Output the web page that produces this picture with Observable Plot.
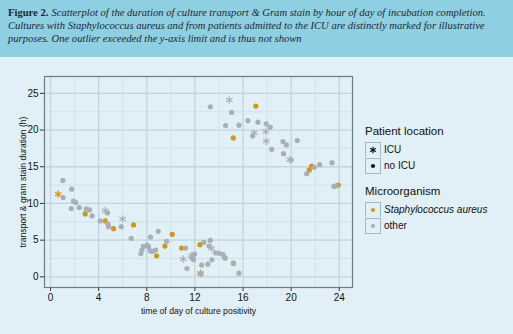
<!DOCTYPE html>
<html>
<head>
<meta charset="utf-8">
<script src="https://cdn.jsdelivr.net/npm/d3@7"></script>
<script src="https://cdn.jsdelivr.net/npm/@observablehq/plot@0.6"></script>
<style>
  html, body { margin: 0; padding: 0; }
  body { width: 513px; height: 334px; background: #e1eff6; position: relative; overflow: hidden; }
  #cap { height: 57px; background: #8ecfe1; box-sizing: border-box; padding: 6px 8px 0 8px;
         font-family: "Liberation Serif", "Times New Roman", serif; font-size: 10.6px; line-height: 13px; color: #1b2a33; }
  #cap div { white-space: nowrap; }
  #cap b { margin-right: 3px; }
  #cap i { font-style: italic; }
  #chart { position: absolute; left: 0; top: 57px; }
  #legend { position: absolute; left: 365px; top: 122px; font-family: "Liberation Sans", Arial, sans-serif; color: #111; }
  .lt { font-size: 11.5px; height: 19px; line-height: 19px; }
  .row { display: flex; align-items: center; height: 16.5px; }
  .box { width: 16px; height: 15.5px; border: 1px solid #a9b6bd; border-bottom-width: 0; box-sizing: border-box; display: flex; align-items: center; justify-content: center; }
  .row:last-child .box { border-bottom-width: 1px; }
  .lab { font-size: 10px; margin-left: 3px; }
  .grp { margin-bottom: 8px; }
</style>
</head>
<body>
<div id="cap">
  <div><b>Figure 2.</b><i>Scatterplot of the duration of culture transport &amp; Gram stain by hour of day of incubation completion.</i></div>
  <div><i>Cultures with Staphylococcus aureus and from patients admitted to the ICU are distinctly marked for illustrative</i></div>
  <div><i>purposes. One outlier exceeded the y-axis limit and is thus not shown</i></div>
</div>
<div id="chart"></div>
<div id="legend"></div>
<script>
// ---- data ----
const xTicks = [0, 4, 8, 12, 16, 20, 24];
const yTicks = [0, 5, 10, 15, 20, 25];
const xMinor = [2, 6, 10, 14, 18, 22];
const yMinor = [2.5, 7.5, 12.5, 17.5, 22.5];

// no ICU, other (gray circles)
const otherNoIcuHour = [1.03,1.75,1.05,1.91,2.1,1.72,2.38,2.97,3.24,3.46,4.13,4.74,4.77,4.82,5.88,6.71,7.51,7.59,7.71,8.04,8.15,8.29,8.45,8.73,8.31,8.95,9.65,11.22,11.34,11.78,11.97,11.89,12.47,12.56,12.75,13.08,13.28,13.19,13.41,13.72,14.02,14.33,14.47,14.52,15.22,15.66,13.28,14.55,15.05,15.66,16.41,16.8,17.24,17.93,18.26,18.38,19.32,19.6,19.37,20.01,20.51,21.29,21.92,22.37,23.39,23.56,23.75];
const otherNoIcuDur  = [13.14,11.95,10.81,10.31,10.13,9.31,9.44,9.26,9.12,8.3,7.62,8.71,7.21,6.84,6.84,5.25,3.15,3.65,4.15,4.33,4.1,3.56,3.47,3.65,5.43,6.2,4.84,3.92,1.14,2.55,3.1,2.37,0.46,1.6,4.7,1.73,4.97,4.2,2.33,3.28,3.19,3.06,2.65,2.55,1.82,0.5,23.18,20.62,22.4,20.67,21.3,19.2,21.08,20.85,20.39,17.38,18.43,17.97,16.79,15.92,18.57,14.05,14.92,15.28,15.56,12.32,12.41];

// ICU, other (gray asterisks)
const otherIcuHour = [4.55,5.99,11.03,11.7,13.39,14.86,16.93,17.9,17.93,19.87];
const otherIcuDur  = [9.03,7.89,2.42,2.87,3.88,24.09,19.62,19.8,18.48,15.97];

// no ICU, Staphylococcus aureus (orange circles)
const saNoIcuHour = [2.88,4.55,5.24,6.9,8.81,9.51,10.12,10.89,12.42,15.2,15.19,17.07,21.51,21.7,23.92];
const saNoIcuDur  = [8.58,7.62,6.57,7.07,2.87,4.2,5.79,3.92,4.38,1.86,18.93,23.27,14.55,15.1,12.5];

// ICU, Staphylococcus aureus (orange asterisks)
const saIcuHour = [0.64,12.47];
const saIcuDur  = [11.27,0.46];

const orange = "#d2980e";
const gray = "#a8b0b6";

const zip = (h, d) => h.map((x, i) => ({hour: x, dur: d[i]}));

const chart = Plot.plot({
  width: 513,
  height: 277,
  marginLeft: 44,
  marginRight: 161,
  marginTop: 19,
  marginBottom: 47,
  style: {background: "transparent", fontFamily: "'Liberation Sans', Arial, sans-serif", fontSize: "10px", color: "#111"},
  x: {domain: [-0.5, 25.1]},
  y: {domain: [-1.45, 27.3]},
  marks: [
    Plot.ruleX(xMinor, {stroke: "#d3e3ea", strokeWidth: 1}),
    Plot.ruleY(yMinor, {stroke: "#d3e3ea", strokeWidth: 1}),
    Plot.ruleX(xTicks, {stroke: "#c3d4dc", strokeWidth: 1.3}),
    Plot.ruleY(yTicks, {stroke: "#c3d4dc", strokeWidth: 1.3}),
    Plot.axisX({ticks: xTicks, tickSize: 4, tickPadding: 2, fontSize: 10, label: null, stroke: "#333"}),
    Plot.axisY({ticks: yTicks, tickSize: 4, tickPadding: 2, fontSize: 10, label: null, stroke: "#333"}),
    Plot.axisX({ticks: [], tickSize: 0, fontSize: 8.6, label: "time of day of culture positivity", labelAnchor: "center", labelArrow: "none", labelOffset: 26}),
    Plot.axisY({ticks: [], tickSize: 0, fontSize: 8.6, label: "transport & gram stain duration (h)", labelAnchor: "center", labelArrow: "none", labelOffset: 25}),
    Plot.dot(zip(saNoIcuHour, saNoIcuDur), {x: "hour", y: "dur", r: 2.6, fill: orange, stroke: null, symbol: "circle"}),
    Plot.dot(zip(saIcuHour, saIcuDur), {x: "hour", y: "dur", r: 3.5, stroke: orange, strokeWidth: 1.3, symbol: "asterisk"}),
    Plot.dot(zip(otherNoIcuHour, otherNoIcuDur), {x: "hour", y: "dur", r: 2.6, fill: gray, stroke: null, symbol: "circle"}),
    Plot.dot(zip(otherIcuHour, otherIcuDur), {x: "hour", y: "dur", r: 3.5, stroke: gray, strokeWidth: 1.2, symbol: "asterisk"}),
    Plot.frame({stroke: "#6e7b83", strokeWidth: 1.2})
  ]
});
document.getElementById("chart").appendChild(chart);

// ---- legend ----
const legendGroups = [
  {title: "Patient location", items: [["ICU", "asterisk", "#111", false], ["no ICU", "circle", "#111", false]]},
  {title: "Microorganism", items: [["Staphylococcus aureus", "circle", orange, true], ["other", "circle", gray, false]]}
];
const leg = document.getElementById("legend");
for (const g of legendGroups) {
  const grp = document.createElement("div"); grp.className = "grp";
  const t = document.createElement("div"); t.className = "lt"; t.textContent = g.title; grp.appendChild(t);
  for (const [label, sym, col, ital] of g.items) {
    const row = document.createElement("div"); row.className = "row";
    const box = document.createElement("div"); box.className = "box";
    const sv = d3.create("svg").attr("width", 10).attr("height", 10).attr("viewBox", "-5 -5 10 10");
    const s = sym === "asterisk" ? d3.symbolAsterisk : d3.symbolCircle;
    const p = sv.append("path").attr("d", d3.symbol(s, sym === "asterisk" ? 30 : 14)());
    if (sym === "asterisk") p.attr("fill", "none").attr("stroke", col).attr("stroke-width", 1.2);
    else p.attr("fill", col);
    box.appendChild(sv.node());
    const lab = document.createElement("span"); lab.className = "lab"; lab.textContent = label;
    if (ital) lab.style.fontStyle = "italic";
    row.appendChild(box); row.appendChild(lab); grp.appendChild(row);
  }
  leg.appendChild(grp);
}
</script>
</body>
</html>
